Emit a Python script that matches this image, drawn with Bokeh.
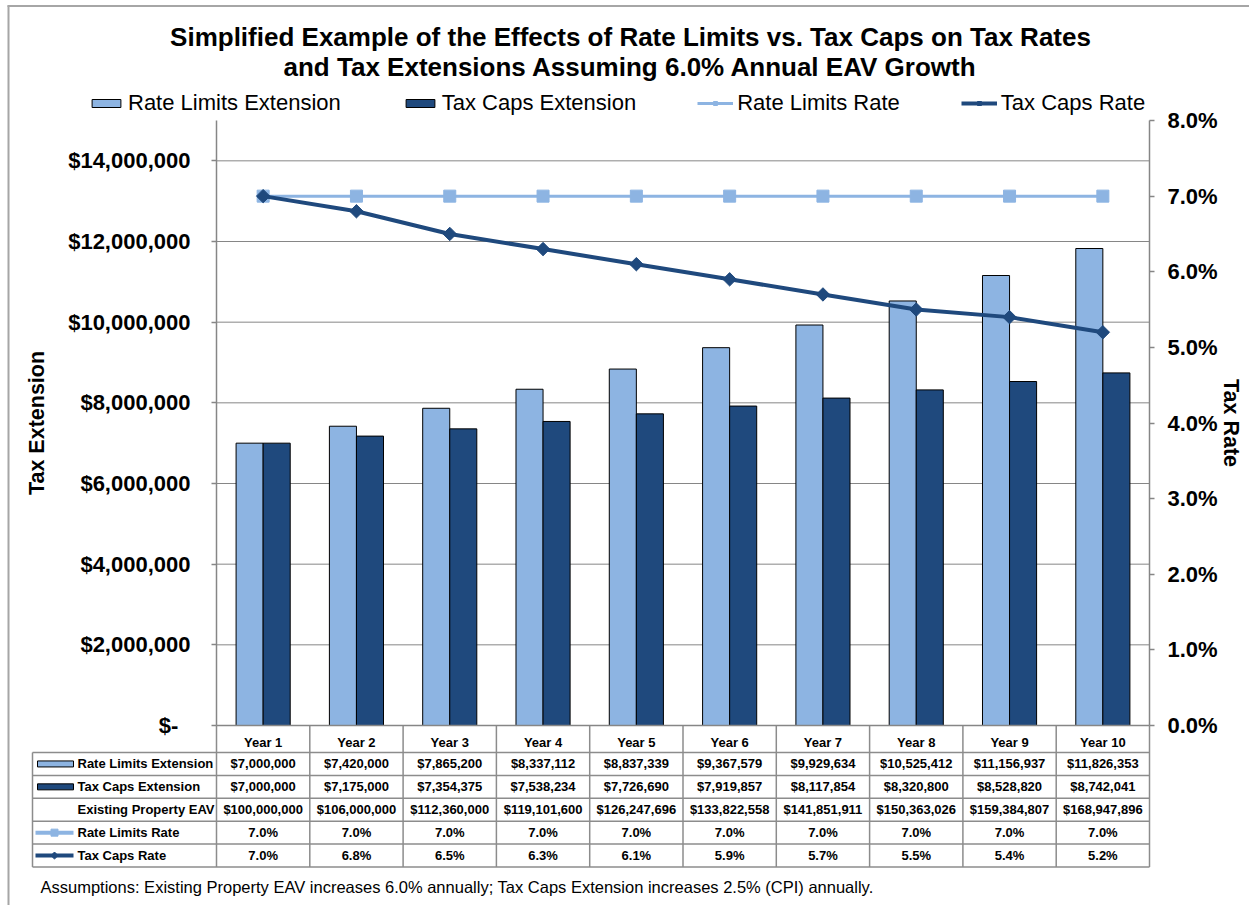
import math

from bokeh.plotting import figure
from bokeh.models import (Range1d, LinearAxis, FixedTicker, NumeralTickFormatter,
                          ColumnDataSource, Legend, LegendItem)
from bokeh.core.properties import value
from bokeh.transform import dodge
from bokeh.embed import file_html
from bokeh.resources import INLINE

# ---------------------------------------------------------------- data
years = ["Year 1", "Year 2", "Year 3", "Year 4", "Year 5",
         "Year 6", "Year 7", "Year 8", "Year 9", "Year 10"]
rate_limits_extension = [7000000, 7420000, 7865200, 8337112, 8837339,
                         9367579, 9929634, 10525412, 11156937, 11826353]
tax_caps_extension = [7000000, 7175000, 7354375, 7538234, 7726690,
                      7919857, 8117854, 8320800, 8528820, 8742041]
existing_property_eav = [100000000, 106000000, 112360000, 119101600, 126247696,
                         133822558, 141851911, 150363026, 159384807, 168947896]
rate_limits_rate = [7.0, 7.0, 7.0, 7.0, 7.0, 7.0, 7.0, 7.0, 7.0, 7.0]
tax_caps_rate = [7.0, 6.8, 6.5, 6.3, 6.1, 5.9, 5.7, 5.5, 5.4, 5.2]

extension_ticks = [0, 2000000, 4000000, 6000000, 8000000, 10000000, 12000000, 14000000]
rate_ticks = [0.0, 0.01, 0.02, 0.03, 0.04, 0.05, 0.06, 0.07, 0.08]
extension_max = 15000000
rate_max = 0.08

title_lines = ["Simplified Example of the Effects of Rate Limits vs. Tax Caps on Tax Rates",
               "and Tax Extensions Assuming 6.0% Annual EAV Growth"]
footnote = ("Assumptions: Existing Property EAV increases 6.0% annually; "
            "Tax Caps Extension increases 2.5% (CPI) annually.")

# ---------------------------------------------------------------- style / layout
FONT = "Liberation Sans"
LIGHT = "#8DB4E2"
DARK = "#1F497D"
AXIS = "#868686"
TABLE_LINE = "#8C8C8C"
BORDER = "#A6A6A6"

W_PX, H_PX = 1249, 905
PLOT_L, PLOT_R, PLOT_T, PLOT_B = 216, 1149, 120, 725
TABLE_L = 32
HEADER_BOT = 752
ROW_H = 22.9

n = len(years)
col_w = (PLOT_R - PLOT_L) / n
x_centers = [i + 0.5 for i in range(n)]

# the frame covers the whole canvas; the plot area sits inside it
x_range = Range1d(-PLOT_L / col_w, n + (W_PX - PLOT_R) / col_w)
ext_per_px = extension_max / (PLOT_B - PLOT_T)
y_range = Range1d(-(H_PX - PLOT_B) * ext_per_px, extension_max + PLOT_T * ext_per_px)
rate_per_px = rate_max / (PLOT_B - PLOT_T)
rate_range = Range1d(-(H_PX - PLOT_B) * rate_per_px, rate_max + PLOT_T * rate_per_px)

p = figure(width=W_PX, height=H_PX, x_range=x_range, y_range=y_range,
           x_axis_type=None, y_axis_type=None, toolbar_location=None,
           output_backend="svg", min_border=0, outline_line_color=None,
           background_fill_color="white", border_fill_color="white")
p.title.visible = False
p.extra_x_ranges = {"px": Range1d(0, W_PX)}
p.extra_y_ranges = {"px": Range1d(H_PX, 0), "rate": rate_range}

src = ColumnDataSource(dict(
    year=years,
    x=x_centers,
    rl_ext=rate_limits_extension,
    tc_ext=tax_caps_extension,
    rl_rate=[r / 100 for r in rate_limits_rate],
    tc_rate=[r / 100 for r in tax_caps_rate],
))

# outer chart border (top and left edges)
p.segment(x0=[7, 8], y0=[5.5, 5], x1=[W_PX, 8], y1=[5.5, H_PX],
          x_range_name="px", y_range_name="px", line_color=BORDER, line_width=2)

# horizontal gridlines at the dollar ticks
grid_vals = extension_ticks[1:]
p.segment(x0=0, x1=n, y0=grid_vals, y1=grid_vals, line_color=AXIS, line_width=1)

# bars
bar_w = 0.29
rl_bars = p.vbar(x=dodge("x", -0.145), top="rl_ext", width=bar_w, source=src,
                 fill_color=LIGHT, line_color="black", line_width=1)
tc_bars = p.vbar(x=dodge("x", 0.145), top="tc_ext", width=bar_w, source=src,
                 fill_color=DARK, line_color="black", line_width=1)

# rate lines on the secondary axis
rl_line = p.line("x", "rl_rate", source=src, y_range_name="rate",
                 line_color=LIGHT, line_width=3)
rl_pts = p.scatter("x", "rl_rate", source=src, y_range_name="rate", marker="square",
                   size=12, fill_color=LIGHT, line_color=LIGHT)
tc_line = p.line("x", "tc_rate", source=src, y_range_name="rate",
                 line_color=DARK, line_width=4)
tc_pts = p.scatter("x", "tc_rate", source=src, y_range_name="rate", marker="square",
                   angle=math.pi / 4, size=9.5, fill_color=DARK, line_color=DARK)


def style_axis(ax, size="22px"):
    ax.axis_line_color = AXIS
    ax.axis_line_width = 1.5
    ax.major_tick_line_color = AXIS
    ax.major_tick_line_width = 1.5
    ax.major_tick_in = 0
    ax.major_tick_out = 5
    ax.minor_tick_line_color = None
    ax.major_label_text_font = FONT
    ax.major_label_text_font_style = "bold"
    ax.major_label_text_font_size = size
    ax.major_label_text_color = "black"
    ax.axis_label_text_font = FONT
    ax.axis_label_text_font_style = "bold"
    ax.axis_label_text_font_size = "21.5px"
    ax.axis_label_text_color = "black"


left = LinearAxis(ticker=FixedTicker(ticks=extension_ticks),
                  formatter=NumeralTickFormatter(format="$0,0"),
                  fixed_location=0, bounds=(0, extension_max),
                  axis_label="Tax Extension", axis_label_standoff=16,
                  major_label_standoff=21,
                  major_label_overrides={0: "$-\u00a0\u00a0", "0": "$-\u00a0\u00a0"})
style_axis(left)
p.add_layout(left, "left")

right = LinearAxis(y_range_name="rate", ticker=FixedTicker(ticks=rate_ticks),
                   formatter=NumeralTickFormatter(format="0.0%"),
                   fixed_location=n, bounds=(0, rate_max),
                   axis_label="Tax Rate", axis_label_standoff=-2,
                   major_label_standoff=13)
style_axis(right)
p.add_layout(right, "right")

year_labels = {}
for xc, yr in zip(x_centers, years):
    year_labels[xc] = yr
    year_labels[str(xc)] = yr
bottom = LinearAxis(ticker=FixedTicker(ticks=x_centers), fixed_location=0,
                    bounds=(0, n), major_label_overrides=year_labels,
                    major_label_standoff=9)
style_axis(bottom, size="13px")
bottom.major_tick_out = 0
bottom.major_tick_line_color = None
p.add_layout(bottom, "below")

# legend along the top
legend = Legend(items=[
    LegendItem(label="Rate Limits Extension", renderers=[rl_bars]),
    LegendItem(label="Tax Caps Extension", renderers=[tc_bars]),
    LegendItem(label="Rate Limits Rate", renderers=[rl_line, rl_pts]),
    LegendItem(label="Tax Caps Rate", renderers=[tc_line, tc_pts]),
], orientation="horizontal", location=(88, H_PX - 116), glyph_width=36,
    glyph_height=10, label_standoff=4, spacing=61, padding=0, margin=0,
    border_line_color=None, background_fill_alpha=0,
    label_text_font=FONT, label_text_font_size="22px", label_text_color="black")
p.add_layout(legend)

# title
p.text(x=[630, 630], y=[36, 66], text=title_lines, x_range_name="px", y_range_name="px",
       text_align="center", text_baseline="middle", text_font=value(FONT),
       text_font_size="26px", text_font_style="bold", text_color="black")

# ---------------------------------------------------------------- data table
row_edges = [HEADER_BOT + k * ROW_H for k in range(6)]
row_mid = [(row_edges[k] + row_edges[k + 1]) / 2 for k in range(5)]
col_edges_px = [PLOT_L + k * col_w for k in range(n + 1)]

p.segment(x0=TABLE_L, x1=PLOT_R, y0=row_edges, y1=row_edges,
          x_range_name="px", y_range_name="px", line_color=TABLE_LINE, line_width=1.5)
p.segment(x0=col_edges_px, x1=col_edges_px, y0=PLOT_B, y1=row_edges[-1],
          x_range_name="px", y_range_name="px", line_color=TABLE_LINE, line_width=1.5)
p.segment(x0=TABLE_L, x1=TABLE_L, y0=HEADER_BOT, y1=row_edges[-1],
          x_range_name="px", y_range_name="px", line_color=TABLE_LINE, line_width=1.5)

table_rows = [
    ("Rate Limits Extension", [f"${v:,}" for v in rate_limits_extension]),
    ("Tax Caps Extension", [f"${v:,}" for v in tax_caps_extension]),
    ("Existing Property EAV", [f"${v:,}" for v in existing_property_eav]),
    ("Rate Limits Rate", [f"{r:.1f}%" for r in rate_limits_rate]),
    ("Tax Caps Rate", [f"{r:.1f}%" for r in tax_caps_rate]),
]
for r, (name, cells) in enumerate(table_rows):
    p.text(x=x_centers, y=[row_mid[r]] * n, text=cells, y_range_name="px",
           text_align="center", text_baseline="middle", text_font=value(FONT),
           text_font_size="13px", text_font_style="bold", text_color="black")
    p.text(x=[77], y=[row_mid[r]], text=[name], x_range_name="px", y_range_name="px",
           text_align="left", text_baseline="middle", text_font=value(FONT),
           text_font_size="13px", text_font_style="bold", text_color="black")

# legend keys inside the table's label column
p.rect(x=[55, 55], y=[row_mid[0], row_mid[1]], width=36, height=6,
       x_range_name="px", y_range_name="px", fill_color=[LIGHT, DARK],
       line_color="black", line_width=1)
p.segment(x0=[35, 35], x1=[73, 73], y0=[row_mid[3], row_mid[4]], y1=[row_mid[3], row_mid[4]],
          x_range_name="px", y_range_name="px", line_color=[LIGHT, DARK], line_width=4)
p.scatter(x=[54], y=[row_mid[3]], marker="square", size=7, x_range_name="px",
          y_range_name="px", fill_color=LIGHT, line_color=LIGHT)
p.scatter(x=[54], y=[row_mid[4]], marker="square", angle=math.pi / 4, size=5,
          x_range_name="px", y_range_name="px", fill_color=DARK, line_color=DARK)

# footnote
p.text(x=[40], y=[886], text=[footnote], x_range_name="px", y_range_name="px",
       text_align="left", text_baseline="middle", text_font=value(FONT),
       text_font_size="16.5px", text_color="black")

open("out.html", "w").write(file_html(p, INLINE))
